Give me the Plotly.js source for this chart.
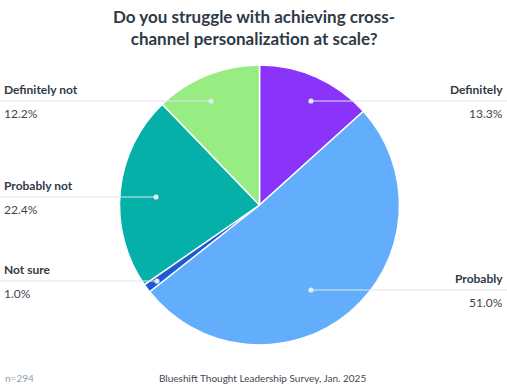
<!DOCTYPE html>
<html><head><meta charset="utf-8">
<script src="https://cdn.plot.ly/plotly-3.0.1.min.js"></script>
<style>html,body{margin:0;padding:0;background:#fff}#c{width:507px;height:387px}</style>
</head><body><div id="c"></div>
<script>
const categories = ["Definitely", "Probably", "Not sure", "Probably not", "Definitely not"];
const values = [13.3, 51.0, 1.0, 22.4, 12.2];
const colors = ["#8A33FB", "#62AEFD", "#1E5AD3", "#05B0A8", "#97EC82"];
const titleText = "Do you struggle with achieving cross-<br>channel personalization at scale?";
const sampleNote = "n=294";
const sourceNote = "Blueshift Thought Leadership Survey, Jan. 2025";

// label layout (pixel positions): [dotX, lineY, side]
const labelPos = {
  "Definitely":     [311, 101, "right"],
  "Probably":       [311, 290, "right"],
  "Not sure":       [157, 281, "left"],
  "Probably not":   [156, 197, "left"],
  "Definitely not": [211, 101, "left"]
};

const W = 507, H = 387;
const cx = 259.5, cy = 205, r = 140;

const pie = {
  type: "pie",
  values: values,
  labels: categories,
  sort: false,
  direction: "clockwise",
  rotation: 0,
  textinfo: "none",
  hoverinfo: "label+percent",
  marker: {colors: colors, line: {color: "#ffffff", width: 1.5}},
  domain: {x: [(cx - r) / W, (cx + r) / W], y: [(H - cy - r) / H, (H - cy + r) / H]},
  showlegend: false
};

const shapes = [];
const annotations = [];
categories.forEach((c, i) => {
  const [dx, ly, side] = labelPos[c];
  const x0 = side === "left" ? 0 : dx;
  const x1 = side === "left" ? dx : W;
  shapes.push({type: "line", xref: "x", yref: "y", x0: x0, x1: x1, y0: ly, y1: ly,
    line: {color: "#dfe4ec", width: 1.2}, layer: "above"});
  shapes.push({type: "circle", xref: "x", yref: "y", x0: dx - 2.6, x1: dx + 2.6, y0: ly - 2.6, y1: ly + 2.6,
    fillcolor: "#e6ebf2", line: {width: 0}, layer: "above"});
  const ax = side === "left" ? 2 : W - 2;
  const anchor = side === "left" ? "left" : "right";
  annotations.push({xref: "x", yref: "y", x: ax, y: ly - 12, text: "<b>" + c + "</b>",
    showarrow: false, xanchor: anchor, yanchor: "middle",
    font: {family: "Lato, 'Open Sans', sans-serif", size: 12, color: "#2f3a45"}});
  annotations.push({xref: "x", yref: "y", x: ax, y: ly + 12, text: values[i].toFixed(1) + "%",
    showarrow: false, xanchor: anchor, yanchor: "middle",
    font: {family: "Lato, 'Open Sans', sans-serif", size: 12, color: "#3d4650"}});
});

annotations.push({xref: "paper", yref: "paper", x: 0.5, y: 1 - 4 / H, yanchor: "top",
  text: "<b>" + titleText + "</b>", showarrow: false,
  font: {family: "Lato, 'Open Sans', sans-serif", size: 17, color: "#2e3a46"}});
annotations.push({xref: "x", yref: "y", x: 3, y: 378, text: sampleNote, showarrow: false,
  xanchor: "left", yanchor: "middle",
  font: {family: "Lato, 'Open Sans', sans-serif", size: 10, color: "#8a9eb5"}});
annotations.push({xref: "x", yref: "y", x: 262, y: 378, text: sourceNote, showarrow: false,
  xanchor: "center", yanchor: "middle",
  font: {family: "Lato, 'Open Sans', sans-serif", size: 10, color: "#3f4751"}});

const layout = {
  width: W, height: H,
  margin: {l: 0, r: 0, t: 0, b: 0},
  paper_bgcolor: "#ffffff", plot_bgcolor: "rgba(0,0,0,0)",
  xaxis: {range: [0, W], visible: false, fixedrange: true},
  yaxis: {range: [H, 0], visible: false, fixedrange: true},
  shapes: shapes,
  annotations: annotations,
  showlegend: false
};

Plotly.newPlot("c", [pie], layout, {displayModeBar: false, staticPlot: true});
</script></body></html>
